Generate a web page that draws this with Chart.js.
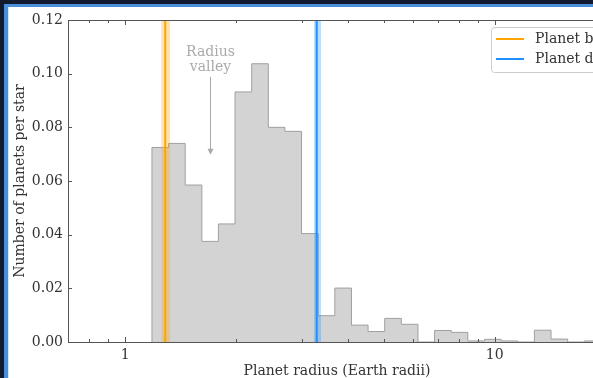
<!DOCTYPE html>
<html>
<head>
<meta charset="utf-8">
<script src="https://cdn.jsdelivr.net/npm/chart.js@4.4.0/dist/chart.umd.min.js"></script>
<style>
  html, body { margin: 0; padding: 0; width: 593px; height: 378px; overflow: hidden; background: #121a30; }
  .frame { position: absolute; left: 4px; top: 4px; width: 700px; height: 500px; background: #4a8fda; }
  .panel { position: absolute; left: 4px; top: 3px; width: 700px; height: 500px; background: #fff; border-left: 1px solid #d6e8fa; }
  #chart { position: absolute; left: 0; top: 0; }
</style>
</head>
<body>
<div class="frame"><div class="panel"></div></div>
<canvas id="chart" width="620" height="390"></canvas>
<script>
// histogram bins (Earth radii) and heights (planets per star)
const binEdges = [1.181, 1.310, 1.453, 1.612, 1.787, 1.982, 2.199, 2.439, 2.705, 3.000,
    3.328, 3.691, 4.094, 4.541, 5.037, 5.587, 6.197, 6.873, 7.624, 8.456,
    9.380, 10.40, 11.54, 12.80, 14.20, 15.75, 17.47, 19.37];
const binValues = [0.0725, 0.0740, 0.0585, 0.0375, 0.0440, 0.0932, 0.1037, 0.0800, 0.0785, 0.0404,
    0.0098, 0.0201, 0.0063, 0.0039, 0.0088, 0.0066, 0.0, 0.0043, 0.0036, 0.0004,
    0.0010, 0.0004, 0.0, 0.0044, 0.0011, 0.0, 0.0004];

// planets: radius and uncertainty range
const planetNames = ['Planet b', 'Planet d'];
const planetRadius = [1.283, 3.297];
const planetLow = [1.251, 3.243];
const planetHigh = [1.323, 3.386];
const planetColors = ['#ffa500', '#1e90ff'];
const planetBands = ['rgba(255, 165, 0, 0.3)', 'rgba(30, 144, 255, 0.3)'];

// axis ticks
const xMajorTicks = [1, 10];
const xMinorTicks = [0.8, 0.9, 2, 3, 4, 5, 6, 7, 8, 9];
const yTicks = [0, 0.02, 0.04, 0.06, 0.08, 0.10, 0.12];

// annotation
const valleyX = 1.70;
const valleyArrow = [0.0988, 0.0698];

const FONT = '"DejaVu Serif", serif';
const INK = '#333';
const SPINE = '#555';

Chart.defaults.font.family = FONT;
Chart.defaults.font.size = 14;
Chart.defaults.color = INK;

const histPoints = [{x: binEdges[0], y: 0}];
binValues.forEach((v, i) => histPoints.push({x: binEdges[i], y: v}));
histPoints.push({x: binEdges[binEdges.length - 1], y: 0});

const datasets = [];
planetNames.forEach((name, i) => {
    datasets.push({
        label: name,
        data: [{x: planetRadius[i], y: 0}, {x: planetRadius[i], y: 0.12}],
        borderColor: planetColors[i],
        borderWidth: 2,
        pointRadius: 0,
        fill: false
    });
});
planetNames.forEach((name, i) => {
    datasets.push({
        label: name + ' range',
        data: [{x: planetLow[i], y: 0.12}, {x: planetHigh[i], y: 0.12}],
        borderColor: 'transparent',
        borderWidth: 0,
        backgroundColor: planetBands[i],
        pointRadius: 0,
        fill: 'origin'
    });
});
datasets.push({
    label: 'histogram',
    data: histPoints,
    stepped: true,
    borderColor: '#a0a0a0',
    borderWidth: 1,
    backgroundColor: '#d3d3d3',
    pointRadius: 0,
    fill: 'origin'
});

const px = v => Math.round(v) + 0.5;

// inward ticks and box spines, matplotlib style
const frameTicks = {
    id: 'frameTicks',
    afterDraw(chart) {
        const {ctx, chartArea: a, scales: {x, y}} = chart;
        ctx.save();
        ctx.strokeStyle = SPINE;
        ctx.lineWidth = 1;
        ctx.beginPath();
        xMinorTicks.forEach(v => {
            const p = px(x.getPixelForValue(v));
            ctx.moveTo(p, a.bottom); ctx.lineTo(p, a.bottom - 3);
            ctx.moveTo(p, a.top); ctx.lineTo(p, a.top + 3);
        });
        xMajorTicks.forEach(v => {
            const p = px(x.getPixelForValue(v));
            ctx.moveTo(p, a.bottom); ctx.lineTo(p, a.bottom - 5);
            ctx.moveTo(p, a.top); ctx.lineTo(p, a.top + 5);
        });
        yTicks.forEach(v => {
            const p = px(y.getPixelForValue(v));
            ctx.moveTo(a.left, p); ctx.lineTo(a.left + 4, p);
        });
        ctx.stroke();
        ctx.strokeRect(px(a.left), px(a.top), Math.round(a.right - a.left), Math.round(a.bottom - a.top));

        // legend box
        const left = a.right - 115, top = a.top + 7.5;
        ctx.fillStyle = 'rgba(255,255,255,0.8)';
        ctx.strokeStyle = '#cccccc';
        ctx.beginPath();
        ctx.roundRect(left + 0.5, top, 130, 45, 3);
        ctx.fill();
        ctx.stroke();
        ctx.font = '14px ' + FONT;
        ctx.textBaseline = 'middle';
        ctx.textAlign = 'left';
        planetNames.forEach((name, i) => {
            const ly = top + 11.5 + i * 20;
            ctx.strokeStyle = planetColors[i];
            ctx.lineWidth = 2;
            ctx.beginPath();
            ctx.moveTo(left + 5, ly); ctx.lineTo(left + 33, ly);
            ctx.stroke();
            ctx.fillStyle = INK;
            ctx.fillText(name, left + 44, ly);
        });
        ctx.restore();
    }
};

const valleyNote = {
    id: 'valleyNote',
    afterDatasetsDraw(chart) {
        const {ctx, scales: {x, y}} = chart;
        const ax = px(x.getPixelForValue(valleyX));
        const y0 = y.getPixelForValue(valleyArrow[0]);
        const y1 = y.getPixelForValue(valleyArrow[1]);
        ctx.save();
        ctx.fillStyle = '#aaaaaa';
        ctx.strokeStyle = '#aaaaaa';
        ctx.lineWidth = 1;
        ctx.font = '14px ' + FONT;
        ctx.textAlign = 'center';
        ctx.fillText('Radius', ax, y0 - 21);
        ctx.fillText('valley', ax, y0 - 6);
        ctx.beginPath();
        ctx.moveTo(ax, y0); ctx.lineTo(ax, y1 - 4);
        ctx.stroke();
        ctx.beginPath();
        ctx.moveTo(ax, y1); ctx.lineTo(ax - 3, y1 - 6); ctx.lineTo(ax + 3, y1 - 6);
        ctx.closePath();
        ctx.fill();
        ctx.restore();
    }
};

new Chart(document.getElementById('chart'), {
    type: 'line',
    data: { datasets: datasets },
    options: {
        responsive: false,
        animation: false,
        events: [],
        layout: { padding: { top: 20, right: 14, left: 0, bottom: 0 } },
        plugins: { legend: { display: false }, tooltip: { enabled: false } },
        scales: {
            x: {
                type: 'logarithmic',
                min: 0.7,
                max: 20,
                grid: { display: false, drawTicks: false },
                border: { display: false },
                afterBuildTicks: s => { s.ticks = xMajorTicks.map(v => ({ value: v })); },
                afterFit: s => { s.height = 48; },
                ticks: { padding: 5, maxRotation: 0, autoSkip: false, color: INK, callback: v => String(v) },
                title: { display: true, text: 'Planet radius (Earth radii)', color: INK, padding: { top: 0, bottom: 10 } }
            },
            y: {
                min: 0,
                max: 0.12,
                grid: { display: false, drawTicks: false },
                border: { display: false },
                afterBuildTicks: s => { s.ticks = yTicks.map(v => ({ value: v })); },
                afterFit: s => { s.width = 68; },
                ticks: { padding: 5, color: INK, callback: v => v.toFixed(2) },
                title: { display: true, text: 'Number of planets per star', color: INK, padding: { top: 12, bottom: 0 } }
            }
        }
    },
    plugins: [valleyNote, frameTicks]
});
</script>
</body>
</html>
